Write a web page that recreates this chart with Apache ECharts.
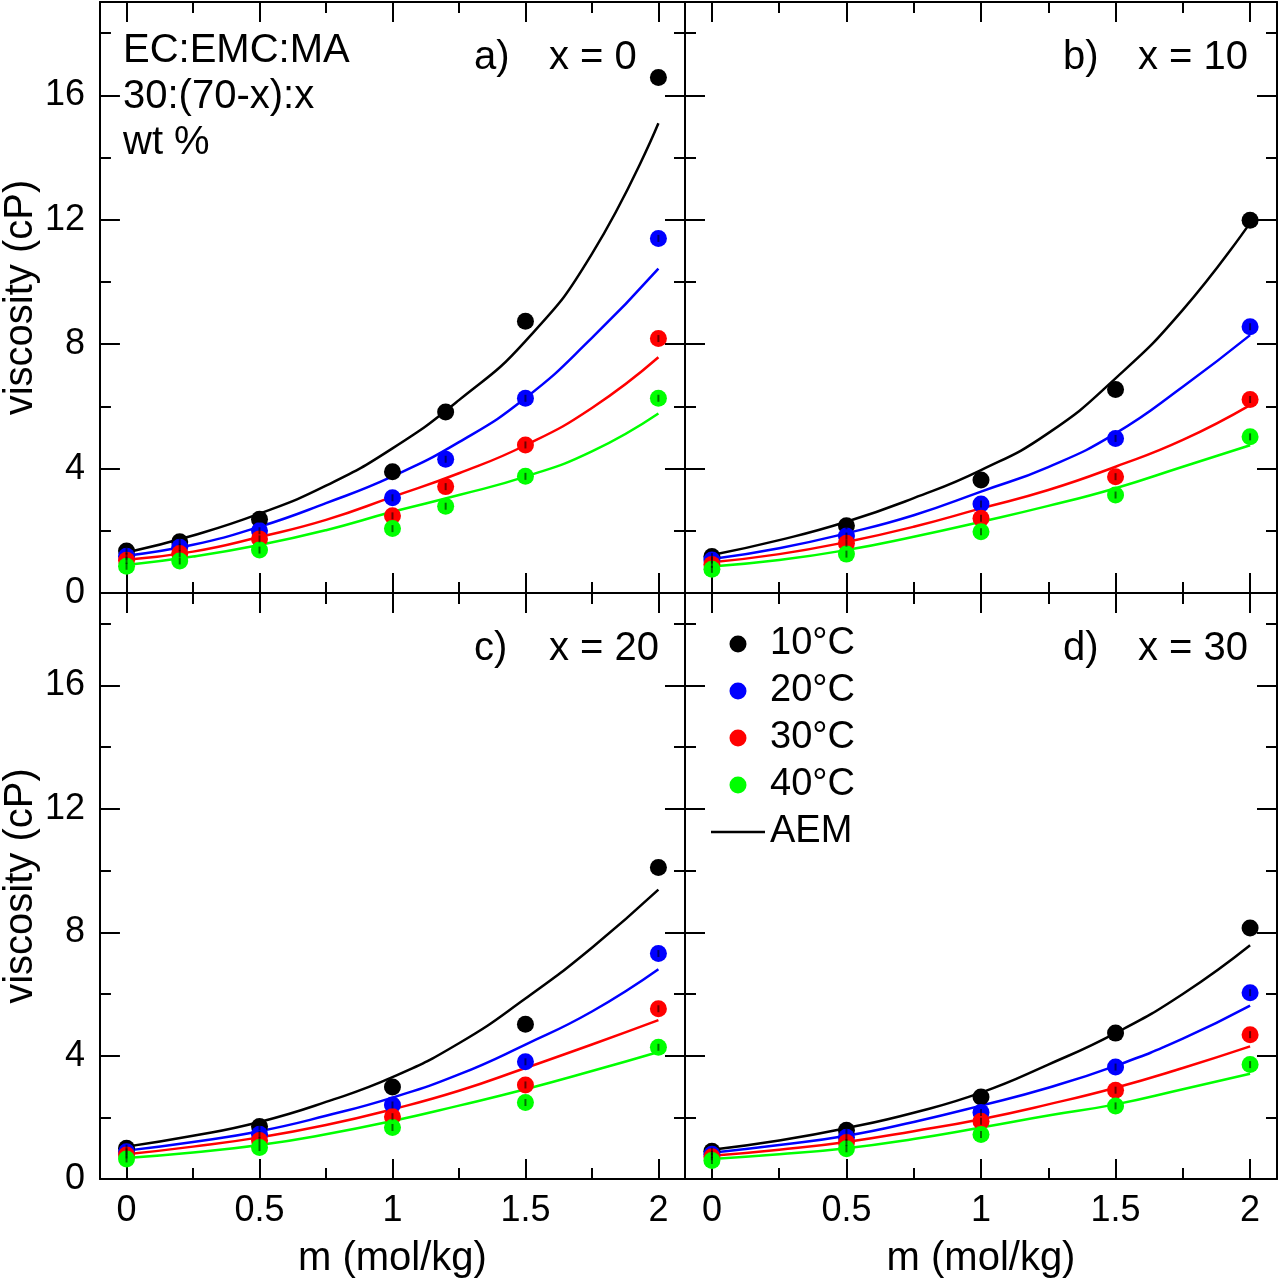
<!DOCTYPE html>
<html>
<head>
<meta charset="utf-8">
<script src="https://cdn.jsdelivr.net/npm/echarts@6/dist/echarts.min.js"></script>
<style>html,body{margin:0;padding:0;background:#fff}#c{width:1280px;height:1280px}</style>
</head>
<body>
<div id="c"></div>
<script>
// ---------- data ----------
const temps = ['10°C', '20°C', '30°C', '40°C'];
const colors = ['#000000', '#0000ff', '#ff0000', '#00ff00'];
const xTickMajor = [0, 0.5, 1, 1.5, 2];
const xTickMinor = [0.25, 0.75, 1.25, 1.75];
const yTickMajor = [0, 4, 8, 12, 16];
const yTickMinor = [2, 6, 10, 14, 18];

// measured points (m in mol/kg, viscosity in cP)
const mA = [0, 0.2, 0.5, 1, 1.2, 1.5, 2];
const a10 = [1.35, 1.65, 2.37, 3.9, 5.82, 8.74, 16.57];
const a20 = [1.18, 1.47, 2.0, 3.06, 4.3, 6.26, 11.4];
const a30 = [1.05, 1.27, 1.74, 2.48, 3.42, 4.76, 8.18];
const a40 = [0.86, 1.03, 1.38, 2.07, 2.79, 3.75, 6.26];

const mB = [0, 0.5, 1, 1.5, 2];
const b10 = [1.17, 2.16, 3.63, 6.54, 11.98];
const b20 = [1.06, 1.83, 2.86, 4.97, 8.56];
const b30 = [0.92, 1.6, 2.4, 3.74, 6.22];
const b40 = [0.76, 1.25, 1.97, 3.15, 5.02];

const mC = [0, 0.5, 1, 1.5, 2];
const c10 = [1.0, 1.7, 2.98, 5.02, 10.1];
const c20 = [0.88, 1.45, 2.4, 3.8, 7.31];
const c30 = [0.78, 1.25, 2.02, 3.05, 5.52];
const c40 = [0.65, 1.02, 1.67, 2.48, 4.27];

const mD = [0, 0.5, 1, 1.5, 2];
const d10 = [0.9, 1.58, 2.66, 4.73, 8.14];
const d20 = [0.8, 1.35, 2.16, 3.63, 6.04];
const d30 = [0.72, 1.18, 1.87, 2.88, 4.68];
const d40 = [0.6, 0.98, 1.44, 2.37, 3.71];

// AEM model curves
const mFit = [0, 0.25, 0.5, 0.75, 1, 1.25, 1.5, 1.75, 2];
const fitA10 = [1.3, 1.85, 2.55, 3.45, 4.65, 6.2, 8.1, 10.9, 15.1];
const fitA20 = [1.2, 1.55, 2.13, 2.89, 3.75, 4.85, 6.27, 8.2, 10.43];
const fitA30 = [1.07, 1.33, 1.8, 2.35, 3.09, 3.85, 4.75, 5.95, 7.58];
const fitA40 = [0.9, 1.17, 1.54, 2.02, 2.61, 3.15, 3.74, 4.55, 5.77];

const fitB10 = [1.22, 1.7, 2.29, 3.05, 3.95, 5.14, 6.9, 9.1, 11.9];
const fitB20 = [1.09, 1.44, 1.92, 2.5, 3.26, 4.05, 5.13, 6.63, 8.29];
const fitB30 = [0.99, 1.25, 1.64, 2.13, 2.72, 3.31, 4.06, 4.92, 6.04];
const fitB40 = [0.85, 1.06, 1.38, 1.81, 2.29, 2.8, 3.37, 4.06, 4.75];

const fitC10 = [1.05, 1.4, 1.85, 2.5, 3.3, 4.4, 5.85, 7.5, 9.38];
const fitC20 = [0.92, 1.2, 1.55, 2.05, 2.64, 3.39, 4.36, 5.43, 6.8];
const fitC30 = [0.8, 1.05, 1.35, 1.75, 2.26, 2.86, 3.6, 4.36, 5.15];
const fitC40 = [0.68, 0.86, 1.1, 1.45, 1.88, 2.38, 2.91, 3.5, 4.12];

const fitD10 = [0.95, 1.25, 1.65, 2.15, 2.8, 3.71, 4.73, 6.0, 7.58];
const fitD20 = [0.85, 1.1, 1.4, 1.85, 2.38, 2.96, 3.67, 4.55, 5.62];
const fitD30 = [0.75, 0.95, 1.2, 1.55, 1.94, 2.42, 2.96, 3.6, 4.3];
const fitD40 = [0.65, 0.8, 1.0, 1.3, 1.67, 2.06, 2.42, 2.91, 3.41];

const panelLabels = ['a)', 'b)', 'c)', 'd)'];
const panelX = ['x = 0', 'x = 10', 'x = 20', 'x = 30'];
const compText = ['EC:EMC:MA', '30:(70-x):x', 'wt %'];
const xTitle = 'm (mol/kg)';
const yTitle = 'viscosity (cP)';

// ---------- layout ----------
const FONT = 'Liberation Sans, Arial, Helvetica, sans-serif';
const cols = [{ left: 96, width: 589 }, { left: 685, width: 592 }];
const rows = [{ top: 2, height: 591 }, { top: 593, height: 589 }];

const panels = [
  { m: mA, pts: [a10, a20, a30, a40], fits: [fitA10, fitA20, fitA30, fitA40] },
  { m: mB, pts: [b10, b20, b30, b40], fits: [fitB10, fitB20, fitB30, fitB40] },
  { m: mC, pts: [c10, c20, c30, c40], fits: [fitC10, fitC20, fitC30, fitC40] },
  { m: mD, pts: [d10, d20, d30, d40], fits: [fitD10, fitD20, fitD30, fitD40] }
];

const grid = [], xAxis = [], yAxis = [], series = [], graphic = [];
const lineCol = '#000';

panels.forEach((p, i) => {
  const col = cols[i % 2], row = rows[Math.floor(i / 2)];
  const isBottom = i >= 2, isLeft = i % 2 === 0;
  grid.push({ left: col.left, top: row.top, width: col.width, height: row.height });

  const xBase = { gridIndex: i, type: 'value', min: -0.1, max: 2.1, splitLine: { show: false } };
  const yBase = { gridIndex: i, type: 'value', min: 0, max: 19, splitLine: { show: false } };
  const mkTick = (vals, len) => ({ show: true, inside: true, length: len, customValues: vals, lineStyle: { color: lineCol, width: 2 } });
  const axLine = { show: true, onZero: false, lineStyle: { color: lineCol, width: 2 } };
  const noLine = { show: false, onZero: false };

  const xMainIdx = xAxis.length;
  xAxis.push(Object.assign({}, xBase, {
    position: 'bottom', axisLine: axLine, axisTick: mkTick(xTickMajor, 20),
    axisLabel: { show: isBottom, customValues: xTickMajor, fontSize: 36, color: '#000', fontFamily: FONT, margin: 14 },
    name: isBottom ? xTitle : '', nameLocation: 'middle', nameGap: 60,
    nameTextStyle: { fontSize: 40, color: '#000', fontFamily: FONT }
  }));
  xAxis.push(Object.assign({}, xBase, { position: 'bottom', axisLine: noLine, axisTick: mkTick(xTickMinor, 11), axisLabel: { show: false } }));
  xAxis.push(Object.assign({}, xBase, { position: 'top', axisLine: axLine, axisTick: mkTick(xTickMajor, 20), axisLabel: { show: false } }));
  xAxis.push(Object.assign({}, xBase, { position: 'top', axisLine: noLine, axisTick: mkTick(xTickMinor, 11), axisLabel: { show: false } }));

  const yMainIdx = yAxis.length;
  yAxis.push(Object.assign({}, yBase, {
    position: 'left', axisLine: axLine, axisTick: mkTick(yTickMajor, 20),
    axisLabel: { show: isLeft, customValues: yTickMajor, fontSize: 36, color: '#000', fontFamily: FONT, margin: 15 },
    name: isLeft ? yTitle : '', nameLocation: 'middle', nameGap: 58,
    nameTextStyle: { fontSize: 40, color: '#000', fontFamily: FONT }
  }));
  yAxis.push(Object.assign({}, yBase, { position: 'left', axisLine: noLine, axisTick: mkTick(yTickMinor, 11), axisLabel: { show: false } }));
  yAxis.push(Object.assign({}, yBase, { position: 'right', axisLine: axLine, axisTick: mkTick(yTickMajor, 20), axisLabel: { show: false } }));
  yAxis.push(Object.assign({}, yBase, { position: 'right', axisLine: noLine, axisTick: mkTick(yTickMinor, 11), axisLabel: { show: false } }));

  // model curves
  p.fits.forEach((f, k) => {
    series.push({
      type: 'line', name: (i === 0 && k === 0) ? 'AEM' : 'AEM-' + i + '-' + k,
      xAxisIndex: xMainIdx, yAxisIndex: yMainIdx,
      data: mFit.map((m, j) => [m, f[j]]),
      smooth: 0.5, symbol: 'none', showSymbol: false, silent: true, z: 2,
      lineStyle: { color: colors[k], width: 2.5 }, itemStyle: { color: colors[k] }
    });
  });
  // measured points
  p.pts.forEach((v, k) => {
    series.push({
      type: 'scatter', name: temps[k], xAxisIndex: xMainIdx, yAxisIndex: yMainIdx,
      data: p.m.map((m, j) => [m, v[j]]), symbol: 'circle', symbolSize: 17, z: 3,
      itemStyle: { color: colors[k], opacity: 1 }
    });
  });
  // tiny error bars inside the markers
  const errData = [];
  p.pts.forEach(v => p.m.forEach((m, j) => errData.push([m, v[j]])));
  series.push({
    type: 'scatter', name: 'err' + i, xAxisIndex: xMainIdx, yAxisIndex: yMainIdx, silent: true,
    data: errData, symbol: 'rect', symbolSize: [2, 7], z: 4, itemStyle: { color: 'rgba(0,0,0,0.7)' }
  });

  // panel annotation
  graphic.push({ type: 'text', left: col.left + 378, top: row.top + 36, silent: true,
    style: { text: panelLabels[i], fontSize: 40, fontFamily: FONT, fill: '#000' } });
  graphic.push({ type: 'text', left: col.left + 453, top: row.top + 36, silent: true,
    style: { text: panelX[i], fontSize: 40, fontFamily: FONT, fill: '#000' } });
});

compText.forEach((t, j) => {
  graphic.push({ type: 'text', left: 123, top: 31 + j * 46, silent: true,
    style: { text: t, fontSize: 40, fontFamily: FONT, fill: '#000' } });
});

const option = {
  animation: false,
  backgroundColor: '#fff',
  textStyle: { fontFamily: FONT },
  grid, xAxis, yAxis, series, graphic,
  legend: {
    data: [
      temps[0], temps[1], temps[2], temps[3],
      { name: 'AEM', icon: 'path://M0,0 L54,0 L54,2.5 L0,2.5 Z', itemStyle: { color: '#000' } }
    ],
    orient: 'vertical', left: 706, top: 620,
    itemWidth: 54, itemHeight: 17, itemGap: 9,
    textStyle: { fontSize: 38, color: '#000', fontFamily: FONT },
    selectedMode: false
  }
};

const chart = echarts.init(document.getElementById('c'), null, { renderer: 'canvas' });
chart.setOption(option);
</script>
</body>
</html>
